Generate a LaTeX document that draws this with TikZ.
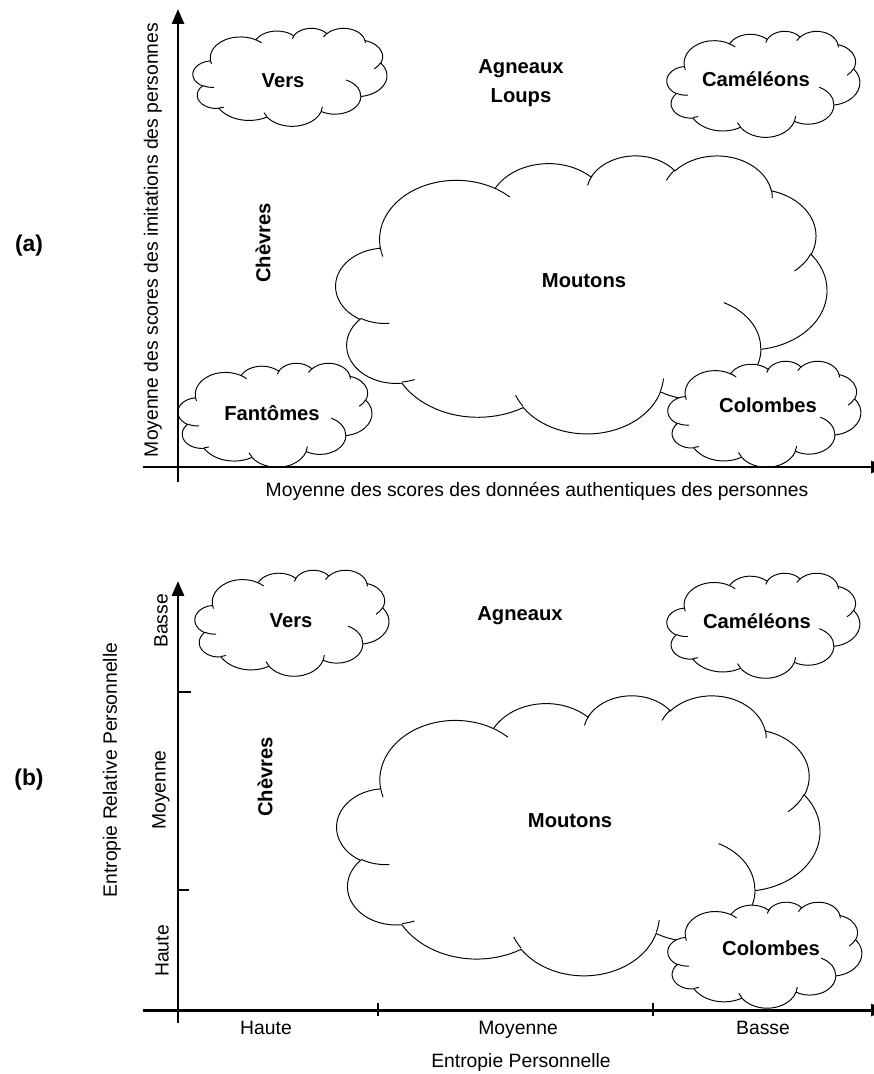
\documentclass[tikz,border=0pt]{standalone}
\usepackage{fontspec}
\setmainfont{Liberation Sans}
\usetikzlibrary{arrows.meta}

% DrawingML-style elliptical arc: radii, visual start angle, sweep (degrees)
\newcommand\oarc[4]{arc[x radius=#1, y radius=#2, start angle={atan2((#1)*sin(#3),(#2)*cos(#3))}, delta angle={mod(atan2((#1)*sin((#3)+(#4)),(#2)*cos((#3)+(#4)))-atan2((#1)*sin(#3),(#2)*cos(#3))+720,360)}]}

% Office-style cloud: left, top, width, height (pixels)
\newcommand\ocloud[4]{%
  \begin{scope}[shift={(#1*0.5690551pt,-#2*0.5690551pt)},x={(#3*0.5690551pt/43.2,0pt)},y={(0pt,-#4*0.5690551pt/43.2)}]
    \path[cloudline] (3.900,14.370) \oarc{6.753}{9.190}{-190.4875}{123.7805} \oarc{5.333}{7.267}{-144.1024}{89.9452} \oarc{4.365}{5.945}{-145.8079}{99.7230} \oarc{4.857}{6.595}{-130.9861}{117.2417} \oarc{5.333}{7.273}{-78.7089}{109.0269} \oarc{6.775}{9.220}{-46.2673}{130.2690} \oarc{5.785}{7.867}{0.6250}{114.0333} \oarc{6.752}{9.215}{22.4516}{115.1726} \oarc{7.720}{10.543}{66.2426}{75.7110} \oarc{4.360}{5.918}{-274.9421}{146.7356} \oarc{4.345}{5.945}{-246.8285}{152.5189} -- cycle;
    \path[hookline] (4.693,26.177) \oarc{4.345}{5.945}{86.7420}{26.4295} (6.928,34.899) \oarc{4.360}{5.918}{73.6105}{11.4475} (16.478,39.090) \oarc{6.752}{9.215}{137.6242}{14.0811} (28.827,34.751) \oarc{6.752}{9.215}{6.4533}{15.9984} (34.129,22.954) \oarc{5.785}{7.867}{-70.2924}{70.9174} (41.798,15.354) \oarc{5.333}{7.273}{30.3180}{27.7515} (38.324,5.426) \oarc{4.857}{6.595}{-13.7443}{14.8589} (29.078,3.952) \oarc{4.857}{6.595}{-149.1815}{18.1954} (22.141,4.720) \oarc{4.365}{5.945}{-163.4943}{19.0052} (14.000,5.192) \oarc{6.753}{9.190}{-66.7070}{12.3194} (4.127,15.789) \oarc{6.753}{9.190}{157.6544}{11.8582};
  \end{scope}}

\tikzset{
  axisline/.style={line width=1.7pt, -{Triangle[length=8.5pt,width=6.8pt]}},
  tickline/.style={line width=0.6pt},
  cloudline/.style={draw=black, fill=white, line width=0.55pt},
  hookline/.style={draw=black, line width=0.55pt},
  lbl/.style={font=\fontsize{11}{13}\selectfont, inner sep=0pt},
  blbl/.style={font=\fontsize{11.5}{13}\selectfont\bfseries, inner sep=0pt},
  tlbl/.style={font=\fontsize{13}{15}\selectfont\bfseries, inner sep=0pt},
}

\begin{document}
\begin{tikzpicture}[x=0.02cm, y=-0.02cm]
\useasboundingbox (0,0) rectangle (874,1074);
\clip (0,0) rectangle (874,1074);
\fill[white] (0,0) rectangle (874,1074);

% ---------------- panel (a) ----------------
\ocloud{336}{155}{491}{278}
\ocloud{193}{28}{194}{98}
\ocloud{667}{31}{193}{106}
\ocloud{178}{363}{194}{104}
\ocloud{668}{361}{193}{106}

\coordinate (aY0) at (178,482);
\coordinate (aYtip) at (178,9);
\coordinate (aX0) at (143,467);
\coordinate (aXtip) at (886,467);
\draw[axisline] (aY0) -- (aYtip);
\draw[axisline] (aX0) -- (aXtip);

\node[blbl, anchor=base] (vA) at (283,88) {Vers};
\node[blbl, anchor=base] (agA) at (521,74) {Agneaux};
\node[blbl, anchor=base] (loA) at (521,103) {Loups};
\node[blbl, anchor=base] (caA) at (756,87) {Caméléons};
\node[blbl, rotate=90] (chA) at (263,243) {Chèvres};
\node[blbl, anchor=base] (moA) at (584,288) {Moutons};
\node[blbl, anchor=base] (faA) at (272,420) {Fantômes};
\node[blbl, anchor=base] (coA) at (768,412) {Colombes};
\node[lbl, anchor=base] (xA) at (537,496) {Moyenne des scores des données authentiques des personnes};
\node[lbl, rotate=90] (yA) at (153,240) {Moyenne des scores des imitations des personnes};
\node[tlbl] (tA) at (29,246) {(a)};

% ---------------- panel (b) ----------------
\ocloud{337}{695}{483}{280}
\ocloud{195}{570}{194}{106}
\ocloud{667}{573}{193}{105}
\ocloud{668}{902}{194}{106}

\coordinate (bY0) at (178,1023);
\coordinate (bYtip) at (178,581);
\coordinate (bX0) at (143,1010);
\coordinate (bXtip) at (886,1010);
\draw[axisline] (bY0) -- (bYtip);
\draw[axisline] (bX0) -- (bXtip);

\coordinate (tx1a) at (378,1003); \coordinate (tx1b) at (378,1016);
\coordinate (tx2a) at (653,1003); \coordinate (tx2b) at (653,1016);
\coordinate (ty1a) at (178,692);  \coordinate (ty1b) at (191,692);
\coordinate (ty2a) at (178,890);  \coordinate (ty2b) at (189,890);
\draw[tickline] (tx1a) -- (tx1b);
\draw[tickline] (tx2a) -- (tx2b);
\draw[tickline] (ty1a) -- (ty1b);
\draw[tickline] (ty2a) -- (ty2b);

\node[blbl, anchor=base] (vB) at (291,627) {Vers};
\node[blbl, anchor=base] (agB) at (520,620) {Agneaux};
\node[blbl, anchor=base] (caB) at (757,628) {Caméléons};
\node[blbl, rotate=90] (chB) at (265,777) {Chèvres};
\node[blbl, anchor=base] (moB) at (570,827) {Moutons};
\node[blbl, anchor=base] (coB) at (771,955) {Colombes};

\node[lbl, anchor=base] (hx) at (266,1034) {Haute};
\node[lbl, anchor=base] (mx) at (518,1034) {Moyenne};
\node[lbl, anchor=base] (bx) at (763,1034) {Basse};
\node[lbl, anchor=base] (xB) at (521,1067) {Entropie Personnelle};
\node[lbl, rotate=90] (by) at (161,621) {Basse};
\node[lbl, rotate=90] (my) at (161,790) {Moyenne};
\node[lbl, rotate=90] (hy) at (162,951) {Haute};
\node[lbl, rotate=90] (yB) at (112,770) {Entropie Relative Personnelle};
\node[tlbl] (tB) at (29,780) {(b)};
\end{tikzpicture}
\end{document}
